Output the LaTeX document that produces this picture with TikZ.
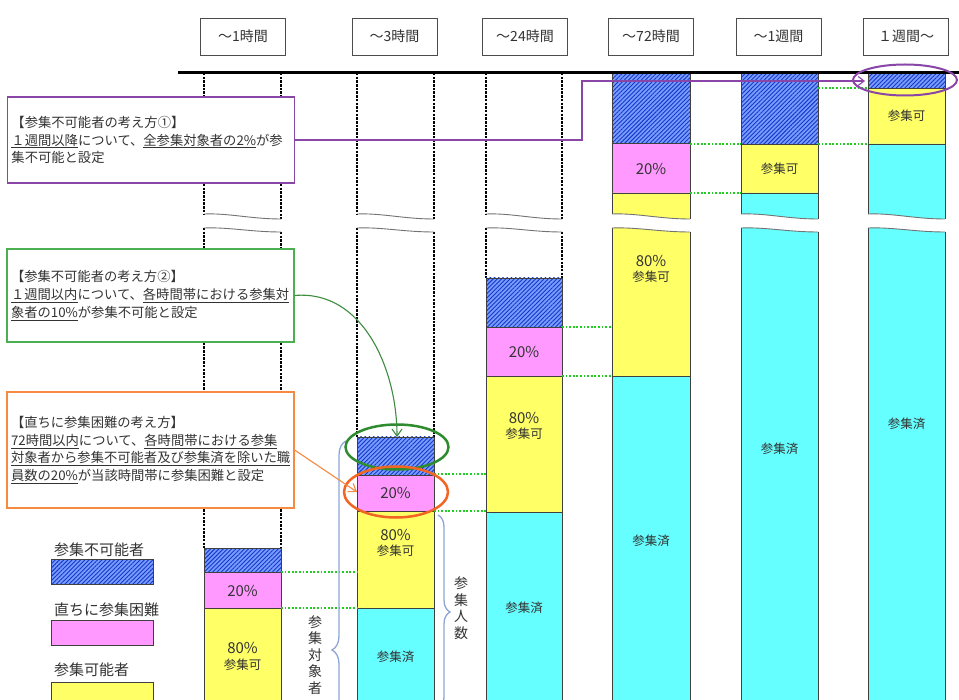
\documentclass[tikz,border=0pt]{standalone}
\usepackage{fontspec}
\setmainfont{Noto Sans CJK JP}
\usetikzlibrary{shapes.geometric,arrows.meta,decorations.pathreplacing,patterns.meta}
\definecolor{pinkF}{HTML}{FF99FF}
\definecolor{yelF}{HTML}{FFFF66}
\definecolor{cyanF}{HTML}{66FFFF}
\definecolor{blueF}{HTML}{7A9CFF}
\definecolor{hatchC}{HTML}{1238C8}
\definecolor{grnD}{HTML}{22CC22}
\definecolor{purp}{HTML}{8A45A8}
\definecolor{grnB}{HTML}{4CAF50}
\definecolor{grnE}{HTML}{2E8B2E}
\definecolor{orng}{HTML}{F58A42}
\definecolor{orngE}{HTML}{F26522}
\definecolor{braceC}{HTML}{8EA6D6}
\definecolor{txt}{HTML}{333333}
\begin{document}
\begin{tikzpicture}[x=1pt,y=-1pt,
 hdr/.style={draw=black!70,line width=0.8pt,minimum width=85pt,minimum height=37pt,inner sep=0pt,font=\fontsize{14}{16}\selectfont,text=txt},
 note/.style={draw,fill=white,line width=1.2pt,inner xsep=4pt,inner ysep=0pt,text width=279pt,align=left,font=\fontsize{13.3}{17.7}\selectfont,text=txt},
 bar/.style={draw=black!75,line width=0.7pt},
 hatchfill/.style={preaction={fill=blueF},pattern={Lines[angle=45,distance=3pt,line width=0.9pt]},pattern color=hatchC},
 cutline/.style={draw=black!55,line width=0.9pt},
 dcol/.style={draw=black,line width=1.4pt,dash pattern=on 2.5pt off 1.2pt},
 gdot/.style={draw=grnD,line width=1.8pt,dash pattern=on 1.8pt off 1.8pt},
 pct/.style={font=\fontsize{15}{16}\selectfont,text=txt,inner sep=0pt},
 lab/.style={font=\fontsize{12.5}{14}\selectfont,text=txt,inner sep=0pt},
 leg/.style={font=\fontsize{15}{17}\selectfont,text=txt,inner sep=0pt,anchor=west},
 vtxt/.style={font=\fontsize{14}{16.5}\selectfont,text=txt,inner sep=0pt,align=center},
 brc/.style={draw=braceC,line width=1.3pt,decorate},
 ring/.style={ellipse,draw,inner sep=0pt}
]
\useasboundingbox (0,0) rectangle (959,700);
\clip (0,0) rectangle (959,700);
\fill[white] (0,0) rectangle (959,700);

% ---------- headers ----------
\node[hdr] (h1) at (243,36.5) {～1時間};
\node[hdr] (h2) at (394.5,36.5) {～3時間};
\node[hdr] (h3) at (525,36.5) {～24時間};
\node[hdr] (h4) at (651,36.5) {～72時間};
\node[hdr] (h5) at (778.5,36.5) {～1週間};
\node[hdr] (h6) at (906,36.5) {１週間～};

% ---------- dashed (empty) upper parts, columns 1-3 ----------
\foreach \L/\R/\B in {204/281/548, 357/434/437, 486/562/278}{
  \draw[dcol] (\L,73) -- (\L,214);
  \draw[dcol] (\R,73) -- (\R,219);
  \draw[dcol] (\L,228) -- (\L,\B);
  \draw[dcol] (\R,232) -- (\R,\B);
}

% ---------- column 1 ----------
\path[hatchfill,bar] (204,548) rectangle (281,572);
\path[fill=pinkF,bar] (204,572) rectangle (281,608);
\path[fill=yelF,bar] (204,608) rectangle (281,710);
% ---------- column 2 ----------
\path[hatchfill,bar] (357,437) rectangle (434,475);
\path[fill=pinkF,bar] (357,475) rectangle (434,511);
\path[fill=yelF,bar] (357,511) rectangle (434,608);
\path[fill=cyanF,bar] (357,608) rectangle (434,710);
% ---------- column 3 ----------
\path[hatchfill,bar] (486,278) rectangle (562,327);
\path[fill=pinkF,bar] (486,327) rectangle (562,376);
\path[fill=yelF,bar] (486,376) rectangle (562,512);
\path[fill=cyanF,bar] (486,512) rectangle (562,710);
% ---------- column 4 ----------
\path[hatchfill,bar] (612,73) rectangle (690,143);
\path[fill=pinkF,bar] (612,143) rectangle (690,193);
\fill[yelF] (612,193) -- (690,193) -- (690,219) .. controls (660,219) and (637,213) .. (612,214) -- cycle;
\draw[bar] (612,214) -- (612,193) -- (690,193) -- (690,219);
\fill[yelF] (612,228) .. controls (637,227) and (660,232) .. (690,232) -- (690,376) -- (612,376) -- cycle;
\draw[bar] (612,228) -- (612,376) -- (690,376) -- (690,232);
\path[fill=cyanF,bar] (612,376) rectangle (690,710);
% ---------- column 5 ----------
\path[hatchfill,bar] (741,73) rectangle (818,144);
\path[fill=yelF,bar] (741,144) rectangle (818,193);
\fill[cyanF] (741,193) -- (818,193) -- (818,219) .. controls (788,219) and (766,213) .. (741,214) -- cycle;
\draw[bar] (741,214) -- (741,193) -- (818,193) -- (818,219);
\path[fill=cyanF] (741,228) .. controls (766,227) and (788,232) .. (818,232) -- (818,710) -- (741,710) -- cycle;
\draw[bar] (741,228) -- (741,710);
\draw[bar] (818,232) -- (818,710);
% ---------- column 6 ----------
\path[hatchfill,bar] (868,73) rectangle (945,88);
\path[fill=yelF,bar] (868,88) rectangle (945,144);
\fill[cyanF] (868,144) -- (945,144) -- (945,219) .. controls (915,219) and (893,213) .. (868,214) -- cycle;
\draw[bar] (868,214) -- (868,144) -- (945,144) -- (945,219);
\path[fill=cyanF] (868,228) .. controls (893,227) and (915,232) .. (945,232) -- (945,710) -- (868,710) -- cycle;
\draw[bar] (868,228) -- (868,710);
\draw[bar] (945,232) -- (945,710);

% ---------- break lines ----------
\foreach \L/\R in {204/281, 357/434, 486/562, 612/690, 741/818, 868/945}{
  \draw[cutline] (\L,214) .. controls (\L+25,213) and (\R-30,219) .. (\R,219);
  \draw[cutline] (\L,228) .. controls (\L+25,227) and (\R-30,232) .. (\R,232);
}

% ---------- green dotted level lines ----------
\draw[gdot] (281,572) -- (357,572);
\draw[gdot] (281,608) -- (357,608);
\draw[gdot] (434,474) -- (486,474);
\draw[gdot] (434,511) -- (486,511);
\draw[gdot] (562,327) -- (612,327);
\draw[gdot] (562,376) -- (612,376);
\draw[gdot] (690,144) -- (741,144);
\draw[gdot] (690,193) -- (741,193);
\draw[gdot] (818,88) -- (868,88);
\draw[gdot] (818,144) -- (868,144);

% ---------- bar texts ----------
\node[pct] (c1p) at (242.5,591) {20\%};
\node[pct] (c1y) at (242.5,648) {80\%};
\node[lab] (c1k) at (242.5,665) {参集可};
\node[pct] (c2p) at (395.5,493) {20\%};
\node[pct] (c2y) at (395.5,535) {80\%};
\node[lab] (c2k) at (395.5,551) {参集可};
\node[lab] (c2s) at (395.5,657) {参集済};
\node[pct] (c3p) at (524,352) {20\%};
\node[pct] (c3y) at (524,418) {80\%};
\node[lab] (c3k) at (524,434) {参集可};
\node[lab] (c3s) at (524,608) {参集済};
\node[pct] (c4p) at (651,169) {20\%};
\node[pct] (c4y) at (651,261) {80\%};
\node[lab] (c4k) at (651,277) {参集可};
\node[lab] (c4s) at (651,541) {参集済};
\node[lab] (c5k) at (779.5,169) {参集可};
\node[lab] (c5s) at (779.5,449) {参集済};
\node[lab] (c6k) at (906.5,116) {参集可};
\node[lab] (c6s) at (906.5,424) {参集済};

% ---------- top axis line ----------
\draw[line width=3pt] (178,73) -- (959,73);

% ---------- braces ----------
\draw[brc,decoration={brace,amplitude=14pt}] (346,859) -- (346,441);
\node[vtxt] (vt1) at (315,655) {参\\集\\対\\象\\者};
\draw[brc,decoration={brace,amplitude=12pt}] (438,515) -- (438,709);
\node[vtxt] (vt2) at (461,608) {参\\集\\人\\数};

% ---------- note boxes ----------
\node[note,draw=purp,minimum height=86pt] (b1) at (151,140)
 {【参集不可能者の考え方①】\\\underline{１週間以降}について、\underline{全参集対象者の2\%}が参\\集不可能と設定};
\node[note,draw=grnB,minimum height=93pt] (b2) at (150.5,295.5)
 {【参集不可能者の考え方②】\\\underline{１週間以内}について、\underline{各時間帯における参集対}\\\underline{象者の10\%}が参集不可能と設定};
\node[note,draw=orng,minimum height=116pt] (b3) at (150.5,450)
 {【直ちに参集困難の考え方】\\\underline{72時間以内}について、\underline{各時間帯における参集}\\\underline{対象者から参集不可能者及び参集済を除いた職}\\\underline{員数の20\%}が当該時間帯に参集困難と設定};

% ---------- highlight rings ----------
\node[ring,draw=purp,line width=2pt,minimum width=104pt,minimum height=31pt] (e1) at (905,80) {};
\node[ring,draw=grnE,line width=2.5pt,minimum width=103pt,minimum height=45pt] (e2) at (397,447) {};
\node[ring,draw=orngE,line width=2.5pt,minimum width=104pt,minimum height=51pt] (e3) at (396,492) {};

% ---------- connectors ----------
\coordinate (p1) at (865,81);
\coordinate (g1) at (397,437);
\coordinate (o1) at (357,492);
\draw[purp,line width=1.1pt,-{Straight Barb[length=6pt,width=9pt]}] (b1.east) -- (582,140) -- (582,81) -- (p1);
\draw[grnB!80!black,line width=1.1pt,-{Straight Barb[length=7pt,width=10pt]}] (b2.east) to[out=5,in=90] (g1);
\draw[orng,line width=1.1pt,-{Straight Barb[length=7pt,width=10pt]}] (b3.east) -- (o1);

% ---------- legend ----------
\node[leg] (l1) at (54,550) {参集不可能者};
\path[hatchfill,bar] (51,559) rectangle (153,584);
\node[leg] (l2) at (54,610) {直ちに参集困難};
\path[fill=pinkF,bar] (51,620) rectangle (153,645);
\node[leg] (l3) at (54,670) {参集可能者};
\path[fill=yelF,bar] (51,682) rectangle (153,710);
\end{tikzpicture}
\end{document}
